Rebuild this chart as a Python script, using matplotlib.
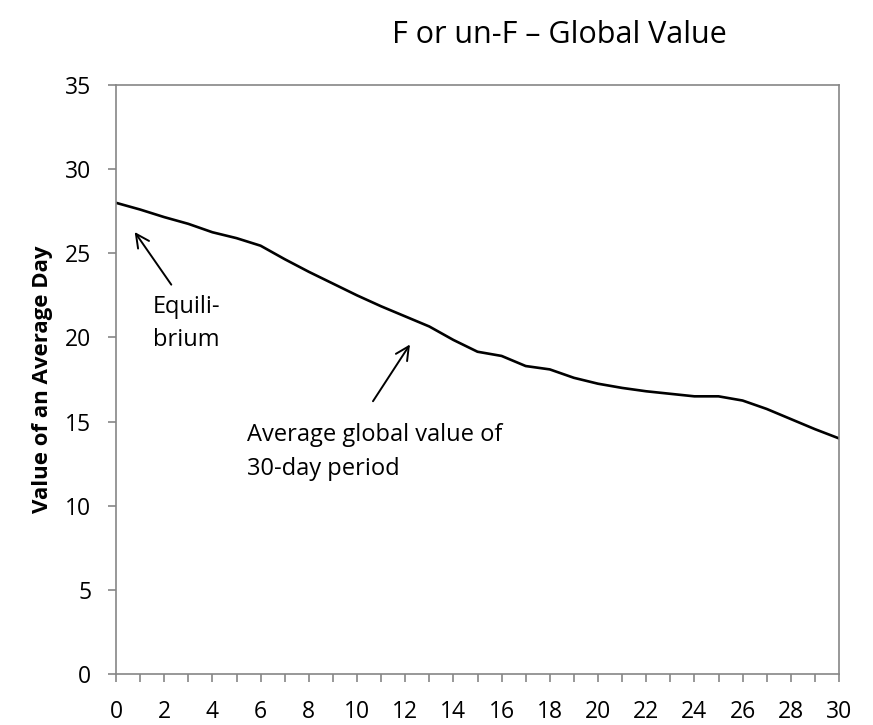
import matplotlib
matplotlib.use("Agg")
import matplotlib.pyplot as plt
from matplotlib.ticker import MultipleLocator

days = list(range(0, 31))
values = [28.0, 27.6, 27.15, 26.75, 26.25, 25.9, 25.45, 24.65, 23.9, 23.2,
          22.5, 21.85, 21.25, 20.65, 19.85, 19.15, 18.9, 18.3, 18.1, 17.6,
          17.25, 17.0, 16.8, 16.65, 16.5, 16.5, 16.25, 15.75, 15.15, 14.55, 14.0]

title = "F or un-F \u2013 Global Value"
ylabel = "Value of an Average Day"
note1_lines = ["Equili-", "brium"]
note2_lines = ["Average global value of", "30-day period"]

plt.rcParams['font.family'] = ['Open Sans', 'DejaVu Sans']

fig = plt.figure(figsize=(8.73, 7.25), dpi=100)
ax = fig.add_axes([116/873, 1 - 674/725, 723/873, 589/725])
ax.plot(days, values, color='black', lw=1.9, solid_joinstyle='round')

ax.set_xlim(0, 30)
ax.set_ylim(0, 35)
ax.xaxis.set_major_locator(MultipleLocator(2))
ax.xaxis.set_minor_locator(MultipleLocator(1))
ax.yaxis.set_major_locator(MultipleLocator(5))

gray = '#868686'
for s in ax.spines.values():
    s.set_color(gray)
    s.set_linewidth(1.2)
ax.tick_params(axis='both', which='both', direction='out', color=gray, width=1.2, length=5.8)
ax.tick_params(axis='both', which='major', labelsize=16.5)
ax.tick_params(axis='x', which='major', pad=13)
ax.tick_params(axis='y', which='major', pad=12)

fig.suptitle(title, x=0.641, y=0.972, fontsize=22)
ax.set_ylabel(ylabel, fontsize=16, fontweight='bold', labelpad=9)

ax.annotate('', xy=(0.71, 26.4), xytext=(2.36, 23.0),
            arrowprops=dict(arrowstyle='->', color='black', lw=1.4, mutation_scale=24))
ax.text(1.53, 21.45, note1_lines[0], fontsize=17, va='baseline', ha='left')
ax.text(1.53, 19.49, note1_lines[1], fontsize=17, va='baseline', ha='left')

ax.annotate('', xy=(12.26, 19.72), xytext=(10.6, 16.07),
            arrowprops=dict(arrowstyle='->', color='black', lw=1.4, mutation_scale=24))
ax.text(5.44, 13.84, note2_lines[0], fontsize=17, va='baseline', ha='left')
ax.text(5.44, 11.82, note2_lines[1], fontsize=17, va='baseline', ha='left')

fig.savefig('out.png', dpi=100)
